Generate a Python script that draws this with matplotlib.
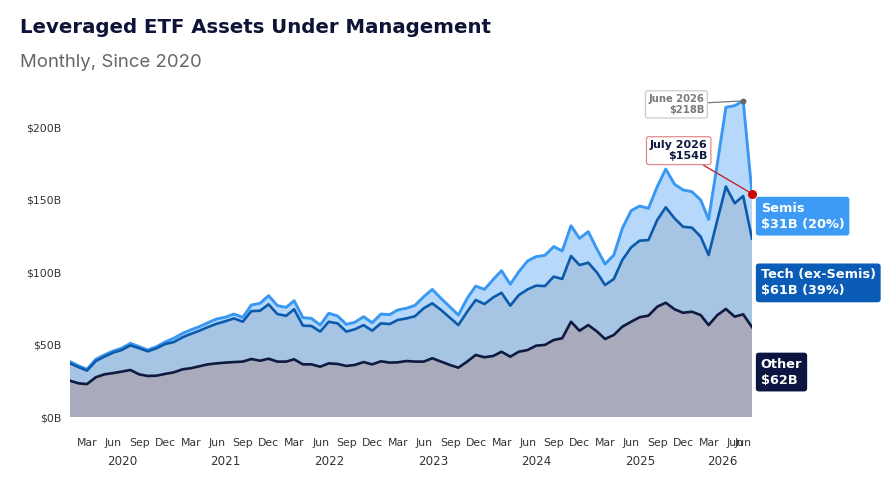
import numpy as np
import pandas as pd
import matplotlib
matplotlib.use("Agg")
import matplotlib.pyplot as plt

# ---------------- data (USD billions, month-end) ----------------
dates = pd.date_range("2019-12-31", "2026-07-31", freq="ME")

other = [25.0, 23.2, 22.7, 27.4, 29.4, 30.3, 31.3, 32.4, 29.4, 28.3,
         28.5, 29.7, 30.8, 32.9, 33.6, 35.0, 36.3, 37.0, 37.5, 37.9,
         38.2, 40.0, 38.8, 40.2, 38.2, 38.2, 39.8, 36.3, 36.3, 34.7,
         37.0, 36.6, 35.2, 35.9, 37.9, 36.3, 38.4, 37.5, 37.7, 38.6,
         38.2, 38.2, 40.5, 38.2, 35.9, 34.0, 38.2, 42.8, 41.2, 42.1,
         45.0, 41.6, 45.0, 46.2, 49.2, 49.7, 53.1, 54.3, 65.7, 59.5,
         63.4, 58.9, 53.8, 56.6, 62.3, 65.7, 68.8, 69.9, 76.1, 78.8,
         74.3, 71.9, 72.6, 70.3, 63.4, 70.3, 74.5, 69.2, 70.8, 62.0]

tech = [12.0, 11.1, 9.3, 11.2, 12.2, 14.1, 14.9, 17.0, 18.0, 17.0,
        18.9, 20.6, 20.9, 22.1, 23.6, 24.5, 25.7, 27.3, 28.5, 30.1,
        27.5, 33.0, 34.5, 37.5, 32.8, 31.6, 34.5, 26.7, 26.5, 24.2,
        28.7, 28.0, 23.7, 24.6, 25.5, 23.2, 26.2, 26.6, 29.2, 29.4,
        31.3, 36.8, 37.9, 35.6, 32.6, 29.4, 34.4, 37.9, 36.7, 40.4,
        40.7, 35.2, 39.1, 41.8, 41.4, 40.6, 43.7, 40.9, 45.3, 45.3,
        43.0, 40.6, 37.2, 38.6, 46.0, 51.3, 52.8, 52.1, 59.8, 65.8,
        62.7, 59.3, 58.0, 54.1, 48.3, 65.6, 84.4, 78.2, 81.6, 61.0]

semis = [1.2, 0.9, 0.9, 1.2, 1.2, 1.1, 1.2, 1.4, 1.1, 0.9,
         1.1, 1.4, 2.6, 2.7, 2.8, 2.8, 3.0, 3.3, 2.8, 3.0,
         3.0, 4.2, 5.1, 6.0, 5.8, 5.8, 5.9, 5.5, 5.2, 4.5,
         5.8, 5.1, 5.0, 4.8, 5.8, 5.5, 6.4, 6.5, 6.9, 7.0,
         7.5, 8.0, 9.6, 8.0, 7.5, 6.9, 9.2, 9.6, 10.1, 12.4,
         15.2, 14.7, 16.1, 19.6, 20.0, 21.2, 20.7, 19.3, 20.9, 18.4,
         21.4, 16.1, 14.5, 16.5, 21.8, 25.3, 23.9, 21.9, 23.0, 26.4,
         23.5, 25.4, 24.8, 25.3, 24.6, 39.1, 54.7, 67.3, 65.6, 31.0]

y_ticks = [0, 50, 100, 150, 200]
y_tick_labels = ["$0B", "$50B", "$100B", "$150B", "$200B"]
years = [2020, 2021, 2022, 2023, 2024, 2025, 2026]

title = "Leveraged ETF Assets Under Management"
subtitle = "Monthly, Since 2020"
label_semis = "Semis\n$31B (20%)"
label_tech = "Tech (ex-Semis)\n$61B (39%)"
label_other = "Other\n$62B"
peak_label = "June 2026\n$218B"
last_label = "July 2026\n$154B"

# ---------------- styling ----------------
c_other_fill, c_tech_fill, c_semis_fill = "#a9abbc", "#a6c4e3", "#b6d9fb"
c_other_line, c_tech_line, c_semis_line = "#0f1a40", "#0c5aab", "#3a98f2"
c_other_box, c_tech_box, c_semis_box = "#0c1440", "#0b5cb6", "#3d9bf5"

other_a = np.array(other)
tech_a = np.array(tech)
semis_a = np.array(semis)
cum_other = other_a
cum_tech = other_a + tech_a
cum_total = cum_tech + semis_a

W, H = 893, 490
fig = plt.figure(figsize=(W / 100, H / 100), dpi=100)
fig.patch.set_facecolor("white")

ylim_top = 230
ax = fig.add_axes([70 / W, (H - 417) / H, 682 / W, ylim_top * 1.45 / H])
ax.set_facecolor("white")

ax.stackplot(dates, other_a, tech_a, semis_a,
             colors=[c_other_fill, c_tech_fill, c_semis_fill], linewidth=0)
ax.plot(dates, cum_total, color=c_semis_line, lw=2.1, solid_joinstyle="round")
ax.plot(dates, cum_tech, color=c_tech_line, lw=1.9, solid_joinstyle="round")
ax.plot(dates, cum_other, color=c_other_line, lw=1.9, solid_joinstyle="round")
ax.axhline(0, color="#d6dce8", lw=1.5, zorder=0.5)

ax.set_xlim(dates[0], dates[-1])
ax.set_ylim(0, ylim_top)
for s in ax.spines.values():
    s.set_visible(False)

ax.set_yticks(y_ticks)
ax.set_yticklabels(y_tick_labels)
ax.tick_params(axis="y", length=0, pad=6, labelsize=7.8, labelcolor="#333333")

qticks = list(pd.date_range("2020-03-01", "2026-06-01", freq="3MS"))
xt = qticks + [dates[-2]]
ax.set_xticks(xt)
ax.set_xticklabels([d.strftime("%b") for d in xt])
ax.tick_params(axis="x", length=0, pad=15, labelsize=7.8, labelcolor="#333333")

# year labels
for yr in years:
    ds = dates[dates.year == yr]
    mid = ds[0] + (ds[-1] - ds[0]) / 2 - pd.Timedelta(days=15)
    ax.annotate(str(yr), xy=(mid, 0), xycoords=("data", "axes fraction"),
                xytext=(0, -32), textcoords="offset points",
                ha="center", va="center", fontsize=8.6, color="#333333")

# right-hand band labels
last = dates[-1]
mids = [cum_other[-1] / 2, (cum_other[-1] + cum_tech[-1]) / 2,
        (cum_tech[-1] + cum_total[-1]) / 2]
for txt, yv, fc in [(label_other, mids[0], c_other_box),
                    (label_tech, mids[1], c_tech_box),
                    (label_semis, mids[2], c_semis_box)]:
    ax.annotate(txt, xy=(last, yv), xytext=(6.3, 0), textcoords="offset points",
                ha="left", va="center", fontsize=9.3, fontweight="bold",
                color="white", linespacing=1.3, annotation_clip=False,
                bbox=dict(boxstyle="round,pad=0.38,rounding_size=0.25",
                          fc=fc, ec="none"))

# peak annotation (June 2026)
ax.plot([dates[-2]], [cum_total[-2]], "o", color="#666666", ms=3.2, zorder=5,
        clip_on=False)
ax.annotate(peak_label, xy=(dates[-2], cum_total[-2]), xytext=(-28, -2.5),
            textcoords="offset points", ha="right", va="center",
            fontsize=7.2, fontweight="bold", color="#7a7a7a", linespacing=1.15,
            annotation_clip=False,
            bbox=dict(boxstyle="round,pad=0.3,rounding_size=0.2", fc="white",
                      ec="#cccccc", lw=0.9),
            arrowprops=dict(arrowstyle="-", color="#777777", lw=0.9,
                            shrinkA=0, shrinkB=2))

# last value annotation (July 2026)
ax.plot([last], [cum_total[-1]], "o", color="#cc0a0a", ms=5.5, zorder=6,
        clip_on=False)
ax.annotate(last_label, xy=(last, cum_total[-1]), xytext=(-32, 31),
            textcoords="offset points", ha="right", va="center",
            fontsize=8.0, fontweight="bold", color="#0f1a40", linespacing=1.15,
            annotation_clip=False,
            bbox=dict(boxstyle="round,pad=0.3,rounding_size=0.2", fc="white",
                      ec="#e08a8a", lw=0.9),
            arrowprops=dict(arrowstyle="-", color="#c0282d", lw=1.0,
                            shrinkA=0, shrinkB=2))

# titles
fig.text(20 / W, 1 - 33 / H, title, ha="left", va="baseline",
         fontsize=14.2, fontweight="bold", color="#0e1438", family="DejaVu Sans")
fig.text(20 / W, 1 - 67 / H, subtitle, ha="left", va="baseline",
         fontsize=13.4, color="#666666", family="Inter")

fig.savefig("out.png", dpi=100, facecolor="white")
